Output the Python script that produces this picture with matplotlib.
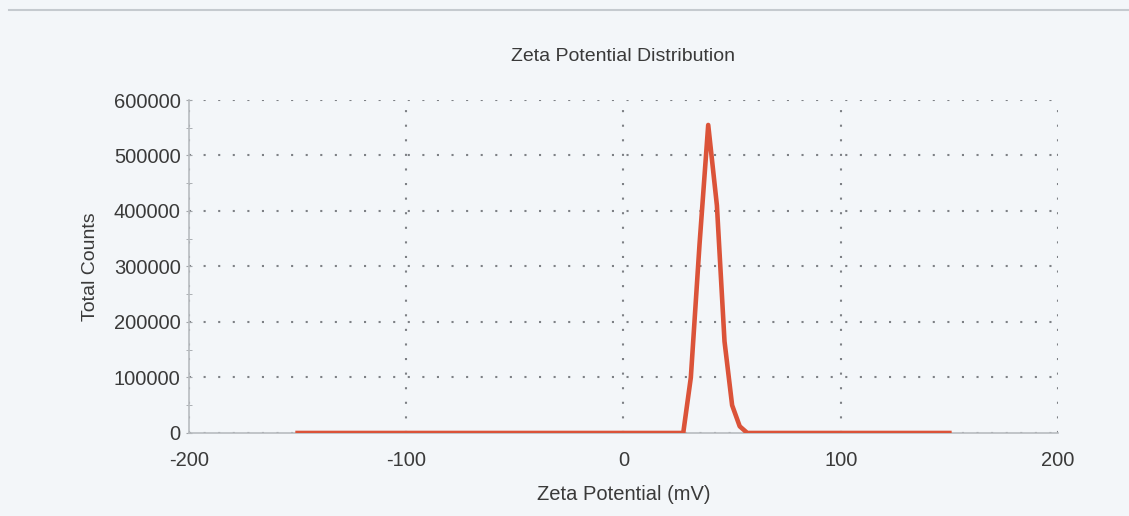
import matplotlib.pyplot as plt
from matplotlib.ticker import MultipleLocator

plt.rcParams['font.family'] = ['Liberation Sans', 'DejaVu Sans']
plt.rcParams['axes.unicode_minus'] = False

# zeta potential (mV) and total counts along the measured distribution
zeta = [-150, -100, -50, 0, 20, 27.5, 31, 35, 39, 43, 46.5, 50, 53.5, 57, 70, 100, 150]
counts = [0, 0, 0, 0, 0, 0, 100000, 340000, 555000, 410000, 165000, 50000, 12000, 0, 0, 0, 0]

x_ticks = [-200, -100, 0, 100, 200]
y_ticks = [0, 100000, 200000, 300000, 400000, 500000, 600000]

bg = '#f3f6f9'
txt = '#3a3a3a'
fig = plt.figure(figsize=(11.29, 5.16), dpi=100, facecolor=bg)
ax = fig.add_axes([0.1674, 0.1609, 0.7697, 0.6453], facecolor=bg)

# page separator line at the top
fig.add_artist(plt.Line2D([0.008, 1.0], [0.981, 0.981], color='#c5cacf', lw=1.5))

ax.plot(zeta, counts, color='#db5339', lw=3.3, solid_joinstyle='round', zorder=3)

ax.set_xlim(-200, 200)
ax.set_ylim(0, 600000)
ax.set_xticks(x_ticks)
ax.set_yticks(y_ticks)
ax.yaxis.set_minor_locator(MultipleLocator(50000))

ax.grid(True, which='major', color='#7d8085', linestyle=(0, (1, 6)), lw=1.5)
for s in ['top', 'right']:
    ax.spines[s].set_visible(False)
for s in ['left', 'bottom']:
    ax.spines[s].set_color('#b8bcc0')
    ax.spines[s].set_linewidth(1.2)

ax.tick_params(axis='both', which='both', colors='#a0a4a8', labelcolor=txt,
               labelsize=14.5)
ax.tick_params(axis='y', which='both', length=4, direction='inout', pad=4)
ax.tick_params(axis='x', which='major', length=0, pad=13)

ax.set_title('Zeta Potential Distribution', fontsize=14, color=txt, pad=28)
ax.set_xlabel('Zeta Potential (mV)', fontsize=14.5, color=txt, labelpad=11)
ax.set_ylabel('Total Counts', fontsize=14, color=txt, labelpad=11)

fig.savefig('out.png', dpi=100, facecolor=bg)
